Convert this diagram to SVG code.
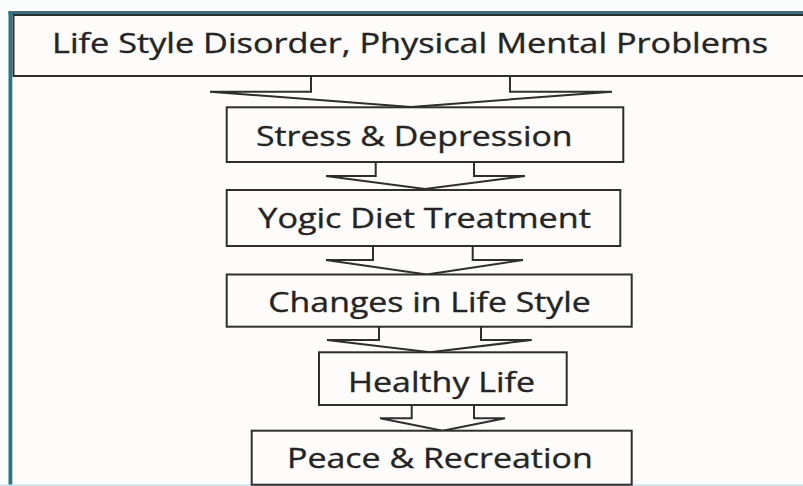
<svg xmlns="http://www.w3.org/2000/svg" width="803" height="486" viewBox="0 0 803 486">
<style>
.box{fill:#fdfcfa;stroke:#2e2e2e;stroke-width:2}
.arr{fill:#fdfcfa;stroke:#2e2e2e;stroke-width:2;stroke-linejoin:miter}
.t{font-family:"Open Sans","Noto Sans",sans-serif;font-size:27px;fill:#242424;stroke:#242424;stroke-width:0.35}
</style>
<rect x="0" y="0" width="803" height="486" fill="#fbfcfc"/>
<rect x="12" y="15" width="791" height="471" fill="#fdfcfa"/>
<rect x="8.5" y="11" width="3.8" height="475" fill="#2b7585"/>
<rect x="8.5" y="11" width="795" height="4" fill="#2b7585"/>
<rect x="0" y="484.5" width="803" height="1.5" fill="#bde8f2"/>
<g id="connectors">
<polyline class="arr" points="311,76 311,91.7 210,91.7 411,107 612,91.7 510,91.7 510,76"/>
<polyline class="arr" points="375.7,162 375.7,176 326,176 425,189 525,176 474,176 474,162"/>
<polyline class="arr" points="373,246 373,260 326,260 426.7,274.5 523,260 472.7,260 472.7,246"/>
<polyline class="arr" points="379,326.7 379,340 327,340 430,352.3 531.7,340 481,340 481,326.7"/>
<polyline class="arr" points="411.7,405 411.7,418.3 380,418.3 442.7,430.7 505,418.3 474,418.3 474,405"/>
</g>
<g id="n1">
<rect class="box" x="13.5" y="15" width="800" height="61"/>
<text class="t" x="52" y="52.7" textLength="716" lengthAdjust="spacingAndGlyphs">Life Style Disorder, Physical Mental Problems</text>
</g>
<g id="n2">
<rect class="box" x="226.7" y="107.3" width="396.6" height="54.7"/>
<text class="t" x="256" y="145.5" textLength="316.5" lengthAdjust="spacingAndGlyphs">Stress &amp; Depression</text>
</g>
<g id="n3">
<rect class="box" x="226.7" y="190" width="393.6" height="56"/>
<text class="t" x="258.3" y="227.7" textLength="332.5" lengthAdjust="spacingAndGlyphs">Yogic Diet Treatment</text>
</g>
<g id="n4">
<rect class="box" x="226.7" y="274.5" width="405" height="52.2"/>
<text class="t" x="268.3" y="311.8" textLength="322.5" lengthAdjust="spacingAndGlyphs">Changes in Life Style</text>
</g>
<g id="n5">
<rect class="box" x="319" y="352.3" width="247.7" height="52.7"/>
<text class="t" x="348" y="391.7" textLength="187" lengthAdjust="spacingAndGlyphs">Healthy Life</text>
</g>
<g id="n6">
<rect class="box" x="251.7" y="430.7" width="380" height="54"/>
<text class="t" x="287" y="468.3" textLength="305.7" lengthAdjust="spacingAndGlyphs">Peace &amp; Recreation</text>
</g>
</svg>
